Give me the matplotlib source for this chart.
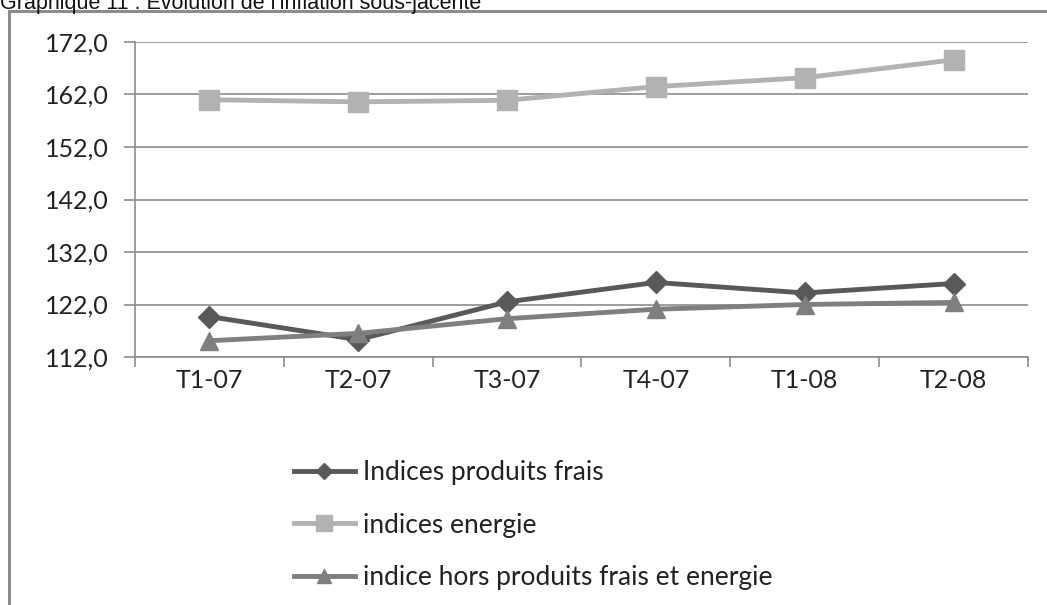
import matplotlib
matplotlib.use("Agg")
import matplotlib.pyplot as plt
from matplotlib.patches import Rectangle
import numpy as np

categories = ["T1-07", "T2-07", "T3-07", "T4-07", "T1-08", "T2-08"]
produits_frais = [119.7, 115.3, 122.5, 126.2, 124.2, 126.0]
energie = [161.0, 160.6, 160.9, 163.5, 165.2, 168.6]
hors_pf_energie = [115.1, 116.5, 119.3, 121.1, 122.0, 122.4]
yticks = [112, 122, 132, 142, 152, 162, 172]

W, H = 1047, 605
fig = plt.figure(figsize=(W / 100, H / 100), dpi=100)

# cadre gris autour du graphique (bord droit et bas hors image)
fig.patches.append(Rectangle((9 / W, -0.1), 1.2, 1.1 - 11 / H, transform=fig.transFigure,
                             fill=False, edgecolor="#8c8c8c", linewidth=2.2))

fig.text(0.0, 1 - 3 / H, "Graphique 11 : Evolution de l'inflation sous-jacente",
         fontsize=15.5, family="Liberation Sans", va="center", ha="left", color="#111111")

ax = fig.add_axes([135 / W, (H - 357) / H, (1028 - 135) / W, (357 - 42) / H])
x = np.arange(len(categories))

ax.plot(x, produits_frais, color="#595959", lw=3.5, marker="D", ms=11,
        label="Indices produits frais")
ax.plot(x, energie, color="#b2b2b2", lw=3.5, marker="s", ms=15,
        label="indices energie")
ax.plot(x, hors_pf_energie, color="#7f7f7f", lw=3.5, marker="^", ms=13,
        label="indice hors produits frais et energie")

ax.set_xlim(-0.5, len(categories) - 0.5)
ax.set_ylim(yticks[0], yticks[-1])
ax.set_yticks(yticks)
ax.set_yticklabels([f"{v:.1f}".replace(".", ",") for v in yticks],
                   fontsize=18, family="Lato", color="#222222")
ax.set_xticks(x)
ax.set_xticklabels(categories, fontsize=18, family="Lato", color="#222222")
ax.set_xticks(np.arange(len(categories) + 1) - 0.5, minor=True)
ax.tick_params(axis="x", which="major", length=0, pad=9)
ax.tick_params(axis="x", which="minor", length=7, color="#8c8c8c", width=1.2)
ax.tick_params(axis="y", length=8, color="#8c8c8c", width=1.2, pad=11)

ax.grid(axis="y", color="#8c8c8c", lw=1.2)
ax.set_axisbelow(True)
for s in ["top", "right"]:
    ax.spines[s].set_visible(False)
for s in ["left", "bottom"]:
    ax.spines[s].set_color("#8c8c8c")
    ax.spines[s].set_linewidth(1.2)

leg = fig.legend(loc="upper left", bbox_to_anchor=(294 / W, 1 - 460 / H), frameon=False,
                 prop={"family": "Lato", "size": 19}, handlelength=2.3, handletextpad=0.3,
                 labelspacing=1.05, markerscale=0.75, borderaxespad=0, borderpad=0)
for t in leg.get_texts():
    t.set_color("#222222")

fig.savefig("out.png", dpi=100, facecolor="white")
